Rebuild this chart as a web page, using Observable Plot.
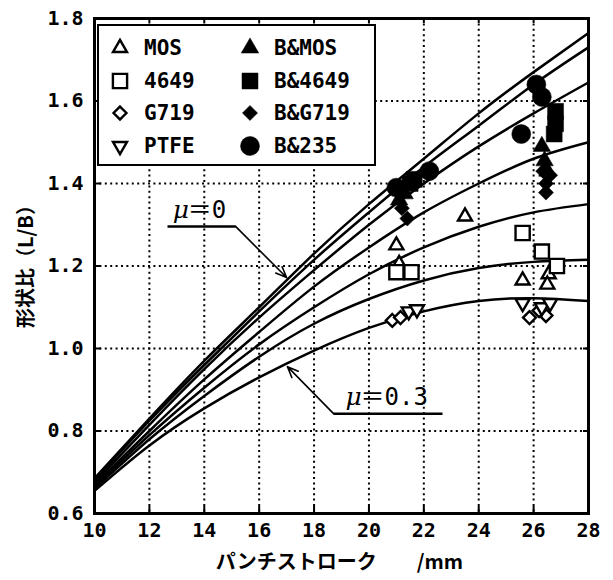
<!DOCTYPE html>
<html><head><meta charset="utf-8">
<script src="https://cdn.jsdelivr.net/npm/d3@7"></script>
<script src="https://cdn.jsdelivr.net/npm/@observablehq/plot@0.6"></script>
<style>
body{margin:0;background:#fff;}
#wrap{position:relative;width:613px;height:580px;}
#legend{position:absolute;left:97px;top:24px;width:279px;height:142px;border:2.5px solid #000;box-sizing:border-box;background:#fff;}
.lt{position:absolute;font:bold 21px "DejaVu Sans Mono",monospace;line-height:24px;white-space:nowrap;}
.ls{position:absolute;}
</style></head>
<body><div id="wrap"><div id="chart"></div><div id="legend"></div></div>
<script>
// axis ticks
const xTicks = [10,12,14,16,18,20,22,24,26,28];
const yTicks = [0.6,0.8,1.0,1.2,1.4,1.6,1.8];
// theoretical curves (mu = 0 ... 0.3), read at these strokes
const curveX = [10,12,14,16,18,20,22,24,26,28];
const curve1 = [0.685,0.830,0.970,1.100,1.230,1.350,1.460,1.570,1.670,1.765];
const curve2 = [0.680,0.825,0.960,1.090,1.215,1.330,1.440,1.540,1.640,1.730];
const curve3 = [0.675,0.815,0.950,1.075,1.190,1.300,1.400,1.490,1.570,1.645];
const curve4 = [0.670,0.800,0.925,1.040,1.150,1.245,1.330,1.400,1.460,1.500];
const curve5 = [0.665,0.790,0.905,1.010,1.100,1.180,1.245,1.295,1.330,1.350];
const curve6 = [0.660,0.780,0.885,0.980,1.060,1.120,1.165,1.195,1.210,1.215];
const curve7 = [0.655,0.765,0.855,0.930,0.995,1.050,1.090,1.115,1.122,1.115];
// experimental points [stroke, L/B]
const MOS   = [[21.0,1.250],[21.1,1.205],[23.5,1.320],[25.6,1.165],[26.55,1.180],[26.5,1.155]];
const S4649 = [[21.0,1.185],[21.55,1.185],[25.6,1.280],[26.3,1.235],[26.85,1.200]];
const G719  = [[20.85,1.068],[21.15,1.075],[25.85,1.075],[26.45,1.080],[26.2,1.092]];
const PTFE  = [[21.45,1.090],[21.75,1.095],[25.6,1.110],[26.3,1.100],[26.6,1.110]];
const BMOS  = [[21.1,1.360],[21.3,1.375],[26.3,1.490],[26.4,1.455],[26.5,1.430]];
const B4649 = [[21.5,1.400],[21.65,1.410],[26.8,1.575],[26.8,1.545],[26.75,1.520]];
const BG719 = [[21.4,1.315],[21.2,1.340],[26.45,1.400],[26.35,1.430],[26.6,1.420],[26.45,1.378]];
const B235  = [[21.0,1.390],[22.2,1.430],[26.1,1.640],[26.3,1.610],[25.55,1.520]];
// annotations
const annoMu = ["μ","μ"];
const annoVal = ["＝0","＝0.3"];
const annoX = [12.85,19.15];
const annoY = [1.335,0.882];
const underX1 = [12.66,18.71];
const underX2 = [15.14,22.68];
const underY = [1.296,0.842];
const arrowFromX = [15.14,18.71];
const tipX = [17.0,17.03];
const tipY = [1.172,0.956];

const curves = [curve1,curve2,curve3,curve4,curve5,curve6,curve7]
  .flatMap((c,i)=>c.map((v,j)=>({id:i,x:curveX[j],y:v})));
const anno = annoMu.map((m,i)=>({m, v:annoVal[i], x:annoX[i], y:annoY[i],
  x1:underX1[i], x2:underX2[i], uy:underY[i], ax:arrowFromX[i], tx:tipX[i], ty:tipY[i]}));
const pts = (arr)=>arr.map(([x,y])=>({x,y}));

const series = [
  {name:"MOS", data:MOS, symbol:"triangle", fill:"white", r:5.2, rotate:0},
  {name:"4649", data:S4649, symbol:"square", fill:"white", r:8, rotate:0},
  {name:"G719", data:G719, symbol:"diamond2", fill:"white", r:5.8, rotate:0},
  {name:"PTFE", data:PTFE, symbol:"triangle", fill:"white", r:5.2, rotate:180},
  {name:"B&MOS", data:BMOS, symbol:"triangle", fill:"black", r:6.5, rotate:0},
  {name:"B&4649", data:B4649, symbol:"square", fill:"black", r:9, rotate:0},
  {name:"B&G719", data:BG719, symbol:"diamond2", fill:"black", r:6.8, rotate:0},
  {name:"B&235", data:B235, symbol:"circle", fill:"black", r:9.5, rotate:0}
];

const dotMarks = series.map(s => Plot.dot(pts(s.data), {
  x:"x", y:"y", symbol:s.symbol, r:s.r, rotate:s.rotate,
  fill:s.fill, stroke:"black", strokeWidth: s.fill==="white"?2.4:0.5
}));

const fw = 613-94-25, fh = 580-18-67;
const chart = Plot.plot({
  width:613, height:580, marginLeft:94, marginRight:25, marginTop:18, marginBottom:67,
  x:{domain:[10,28]}, y:{domain:[0.6,1.8]},
  style:{background:"white"},
  marks:[
    Plot.gridX(xTicks.slice(1,-1), {stroke:"black", strokeOpacity:1, strokeWidth:2, strokeDasharray:"2,3.4"}),
    Plot.gridY(yTicks.slice(1,-1), {stroke:"black", strokeOpacity:1, strokeWidth:2, strokeDasharray:"2,3.4"}),
    Plot.line(curves, {x:"x", y:"y", z:"id", curve:"natural", stroke:"black", strokeWidth:2.5}),
    Plot.link(anno, {x1:"x1", x2:"x2", y1:"uy", y2:"uy", stroke:"black", strokeWidth:2.5}),
    Plot.arrow(anno, {x1:"ax", y1:"uy", x2:"tx", y2:"ty", stroke:"black", strokeWidth:1.6, headLength:11, headAngle:45}),
    Plot.text(anno, {x:"x", y:"y", text:"m", textAnchor:"start", fontSize:25, fontStyle:"italic", fontFamily:"DejaVu Serif", fill:"black"}),
    Plot.text(anno, {x:"x", y:"y", text:"v", textAnchor:"start", dx:15, fontSize:24, fontFamily:"'DejaVu Sans Mono', 'Noto Sans CJK JP'", fill:"black"}),
    ...dotMarks,
    Plot.tickX(xTicks, {stroke:"black", strokeWidth:2, insetTop:fh-7}),
    Plot.tickX(xTicks, {stroke:"black", strokeWidth:2, insetBottom:fh-5}),
    Plot.tickY(yTicks, {stroke:"black", strokeWidth:2, insetRight:fw-7}),
    Plot.tickY(yTicks, {stroke:"black", strokeWidth:2, insetLeft:fw-5}),
    Plot.frame({stroke:"black", strokeWidth:3}),
    Plot.axisX(xTicks, {tickSize:0, tickPadding:9, fontSize:20, fontWeight:"bold", fontFamily:"DejaVu Sans Mono", fill:"black", label:null}),
    Plot.axisY(yTicks, {tickSize:0, tickPadding:11, fontSize:20, fontWeight:"bold", fontFamily:"DejaVu Sans Mono", fill:"black", tickFormat:d3.format(".1f"), label:null}),
    Plot.text(["形状比（L/B）"], {frameAnchor:"left", dx:-68, dy:62, rotate:-90, fontSize:20, fontWeight:"bold", fontFamily:"Noto Sans CJK JP", fill:"black"}),
    Plot.text(["パンチストローク　　/mm"], {frameAnchor:"bottom", dy:55, dx:-2, fontSize:20, fontWeight:"bold", fontFamily:"Noto Sans CJK JP", fill:"black"})
  ]
});
document.getElementById("chart").appendChild(chart);

// legend
const legend = document.getElementById("legend");
const colSym = [21,151], colTxt = [45,175], rowY = [22,55,87,120];
series.forEach((s,i)=>{
  const col = Math.floor(i/4), row = i%4;
  const size = Math.PI*s.r*s.r;
  const symType = {triangle:d3.symbolTriangle, square:d3.symbolSquare, diamond2:d3.symbolDiamond2, circle:d3.symbolCircle}[s.symbol];
  const path = d3.symbol(symType, size)();
  const ns = "http://www.w3.org/2000/svg";
  const svg = document.createElementNS(ns,"svg");
  svg.setAttribute("width",30); svg.setAttribute("height",30);
  svg.setAttribute("class","ls");
  svg.style.left = (colSym[col]-15)+"px"; svg.style.top = (rowY[row]-15)+"px";
  const p = document.createElementNS(ns,"path");
  p.setAttribute("d",path);
  p.setAttribute("transform",`translate(15,15) rotate(${s.rotate})`);
  p.setAttribute("fill",s.fill); p.setAttribute("stroke","black");
  p.setAttribute("stroke-width", s.fill==="white"?2.4:0.5);
  svg.appendChild(p); legend.appendChild(svg);
  const t = document.createElement("div");
  t.className="lt"; t.textContent=s.name;
  t.style.left=colTxt[col]+"px"; t.style.top=(rowY[row]-12)+"px";
  legend.appendChild(t);
});
</script></body></html>
